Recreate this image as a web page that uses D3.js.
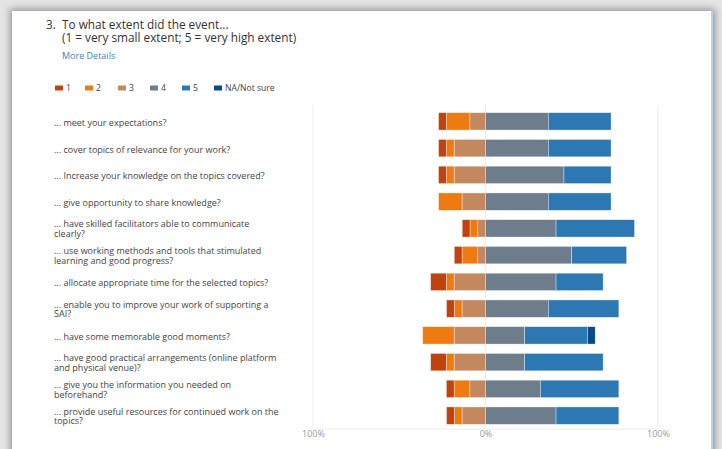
<!DOCTYPE html>
<html>
<head>
<meta charset="utf-8">
<script src="https://cdn.jsdelivr.net/npm/d3@7"></script>
<style>
  html, body { margin: 0; padding: 0; background: #e4e4e4; overflow: hidden; }
  #card { position: absolute; left: 12px; top: 11px; width: 699px; height: 460px; background: #fff;
          box-shadow: 0 0 7px 2px rgba(0,0,0,0.35); border-right: 2px solid #b9d3ec; }
  svg { position: absolute; left: 0; top: 0; }
</style>
</head>
<body>
<div id="card"></div>
<svg id="chart" width="722" height="449"></svg>
<script>
const categories = [
  "... meet your expectations?",
  "... cover topics of relevance for your work?",
  "... Increase your knowledge on the topics covered?",
  "... give opportunity to share knowledge?",
  "... have skilled facilitators able to communicate\nclearly?",
  "... use working methods and tools that stimulated\nlearning and good progress?",
  "... allocate appropriate time for the selected topics?",
  "... enable you to improve your work of supporting a\nSAI?",
  "... have some memorable good moments?",
  "... have good practical arrangements (online platform\nand physical venue)?",
  "... give you the information you needed on\nbeforehand?",
  "... provide useful resources for continued work on the\ntopics?"
];
const seriesNames = ["1", "2", "3", "4", "5", "NA/Not sure"];
const s1 = [4.5, 4.5, 4.5, 0, 4.5, 4.5, 9.1, 4.5, 0, 9.1, 4.5, 4.5];
const s2 = [13.6, 4.5, 4.5, 13.6, 4.5, 9.1, 4.5, 4.5, 18.2, 4.5, 9.1, 4.5];
const s3 = [9.1, 18.2, 18.2, 13.6, 4.5, 4.5, 18.2, 13.6, 18.2, 18.2, 9.1, 13.6];
const s4 = [36.4, 36.4, 45.5, 36.4, 40.9, 50.0, 40.9, 36.4, 22.7, 22.7, 31.8, 40.9];
const s5 = [36.4, 36.4, 27.3, 36.4, 45.5, 31.8, 27.3, 40.9, 36.4, 45.5, 45.5, 36.4];
const sNA = [0, 0, 0, 0, 0, 0, 0, 0, 4.5, 0, 0, 0];
const tickValues = [-100, 0, 100];
const tickLabels = ["100%", "0%", "100%"];
const colors = ["#c0420c", "#ee7b12", "#c4885f", "#6e7d8c", "#2d78b3", "#0b4a86"];

const title1 = "To what extent did the event...";
const title2 = "(1 = very small extent; 5 = very high extent)";

const series = [s1, s2, s3, s4, s5, sNA];
const svg = d3.select("#chart");
const font = "'Open Sans', 'Noto Sans', sans-serif";

// Title
svg.append("text").attr("x", 46).attr("y", 29).attr("font-family", font).attr("font-size", 11.8)
  .attr("fill", "#333").text("3.");
svg.append("text").attr("x", 62).attr("y", 29).attr("font-family", font).attr("font-size", 11.8)
  .attr("fill", "#333").text(title1);
svg.append("text").attr("x", 62).attr("y", 41.5).attr("font-family", font).attr("font-size", 11.8)
  .attr("fill", "#333").text(title2);
svg.append("text").attr("x", 62).attr("y", 59).attr("font-family", font).attr("font-size", 9)
  .attr("fill", "#3b7fc4").text("More Details");

// Legend
const legendX = [55, 85, 118, 150, 182, 214];
const lg = svg.append("g");
seriesNames.forEach((n, i) => {
  lg.append("rect").attr("x", legendX[i]).attr("y", 85.5).attr("width", 8).attr("height", 5).attr("fill", colors[i]);
  lg.append("text").attr("x", legendX[i] + 11).attr("y", 91.3).attr("font-family", font).attr("font-size", 8.6)
    .attr("fill", "#444").text(n);
});

// Scales
const x = d3.scaleLinear().domain([-100, 100]).range([313, 658]);
const y = d3.scaleBand().domain(d3.range(categories.length)).range([108, 429]).paddingInner(0.35).paddingOuter(0.175);

// Grid
const grid = svg.append("g");
tickValues.forEach(t => {
  grid.append("line").attr("x1", x(t)).attr("x2", x(t)).attr("y1", 105).attr("y2", 429)
    .attr("stroke", "#ececec").attr("stroke-width", 1);
});
grid.append("line").attr("x1", x(-100)).attr("x2", x(100)).attr("y1", 429).attr("y2", 429)
  .attr("stroke", "#ececec");

// Axis labels
const axis = d3.axisBottom(x).tickValues(tickValues).tickFormat((d, i) => tickLabels[i]).tickSize(0).tickPadding(0);
const ag = svg.append("g").attr("transform", "translate(0,430)").call(axis);
ag.select(".domain").remove();
ag.selectAll("text").attr("font-family", font).attr("font-size", 9).attr("fill", "#999").attr("dy", "0.8em");

// Bars
const bars = svg.append("g");
categories.forEach((c, i) => {
  // negative side: 3 closest to zero, then 2, then 1
  let left = 0;
  [2, 1, 0].forEach(k => {
    const v = series[k][i];
    if (v > 0) {
      bars.append("rect").attr("x", x(-(left + v))).attr("width", x(-left) - x(-(left + v)))
        .attr("y", y(i)).attr("height", y.bandwidth()).attr("fill", colors[k])
        .attr("stroke", "#fff").attr("stroke-opacity", 0.6).attr("stroke-width", 0.6);
    }
    left += v;
  });
  let right = 0;
  [3, 4, 5].forEach(k => {
    const v = series[k][i];
    if (v > 0) {
      bars.append("rect").attr("x", x(right)).attr("width", x(right + v) - x(right))
        .attr("y", y(i)).attr("height", y.bandwidth()).attr("fill", colors[k])
        .attr("stroke", "#fff").attr("stroke-opacity", 0.6).attr("stroke-width", 0.6);
    }
    right += v;
  });
});

// Category labels
const lab = svg.append("g");
categories.forEach((c, i) => {
  const lines = c.split("\n");
  const cy = y(i) + y.bandwidth() / 2;
  const t = lab.append("text").attr("font-family", font).attr("font-size", 9).attr("fill", "#444");
  if (lines.length === 1) {
    t.append("tspan").attr("x", 54).attr("y", cy + 4.5).text(lines[0]);
  } else {
    t.append("tspan").attr("x", 54).attr("y", cy - 1).text(lines[0]);
    t.append("tspan").attr("x", 54).attr("y", cy + 8.8).text(lines[1]);
  }
});
</script>
</body>
</html>
